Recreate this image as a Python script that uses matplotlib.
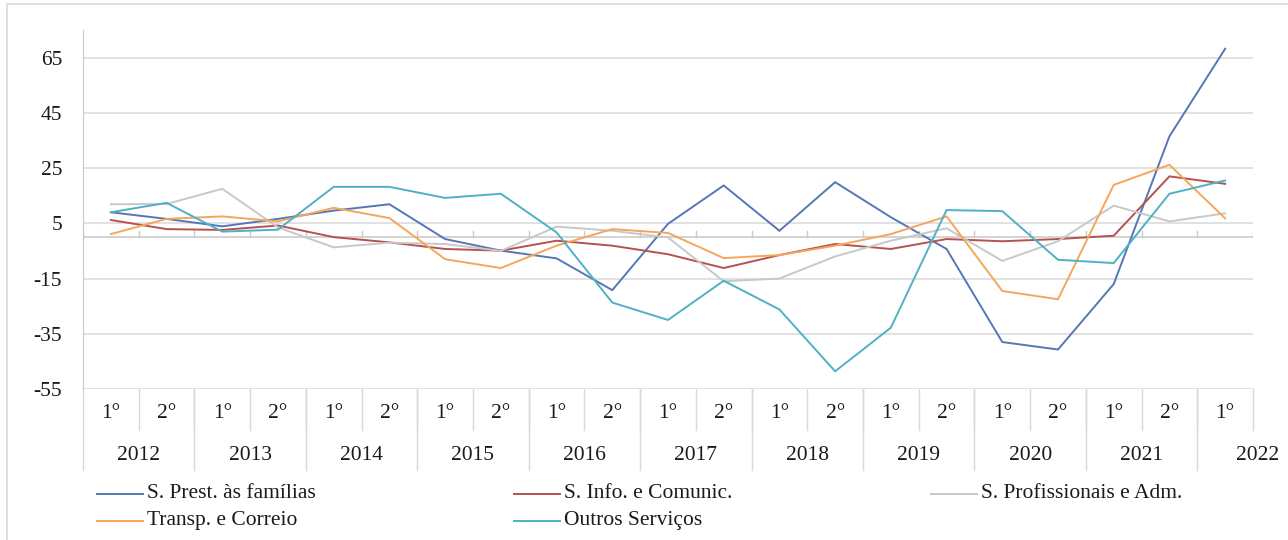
import numpy as np
import matplotlib
matplotlib.use("Agg")
import matplotlib.pyplot as plt
from matplotlib.lines import Line2D
from matplotlib.patches import Rectangle

# ---------------------------------------------------------------
# Data (semesters 2012-1 .. 2022-1)
# ---------------------------------------------------------------
half_labels = ["1°", "2°"] * 10 + ["1°"]
years = ["2012", "2013", "2014", "2015", "2016", "2017",
         "2018", "2019", "2020", "2021", "2022"]

prest = [9.0, 6.6, 3.9, 6.6, 9.6, 11.9, -0.7, -4.9, -7.7, -19.2, 4.8,
         18.7, 2.3, 19.9, 7.2, -4.3, -38.0, -40.7, -17.0, 36.5, 68.2]
info = [6.2, 2.9, 2.6, 4.2, 0.0, -1.9, -4.3, -4.9, -1.3, -3.1, -6.2,
        -11.2, -6.5, -2.5, -4.3, -0.7, -1.5, -0.7, 0.5, 22.0, 19.3]
prof = [11.9, 12.0, 17.5, 3.5, -3.7, -2.0, -2.5, -5.0, 3.8, 2.3, -0.1,
        -16.0, -15.0, -7.0, -1.3, 3.2, -8.6, -1.5, 11.4, 5.7, 8.6]
transp = [1.1, 6.6, 7.5, 5.7, 10.6, 6.9, -8.0, -11.2, -3.1, 2.9, 1.5,
          -7.6, -6.5, -3.1, 1.1, 7.5, -19.5, -22.5, 18.9, 26.2, 6.8]
outros = [9.0, 12.4, 2.0, 2.7, 18.2, 18.2, 14.2, 15.7, 1.7, -23.7, -30.0,
          -15.8, -26.2, -48.6, -32.8, 9.8, 9.4, -8.2, -9.4, 15.7, 20.5]

series_names = ["S. Prest. às famílias", "S. Info. e Comunic.",
                "S. Profissionais e Adm.", "Transp. e Correio", "Outros Serviços"]
series_values = [prest, info, prof, transp, outros]
series_colors = ["#5577b5", "#b5514e", "#c8c8c8", "#f5a65b", "#4fb0c6"]

yticks = [65, 45, 25, 5, -15, -35, -55]

# ---------------------------------------------------------------
# Figure
# ---------------------------------------------------------------
plt.rcParams["font.family"] = ["Liberation Serif", "DejaVu Serif"]
plt.rcParams["text.color"] = "#1a1a1a"
plt.rcParams["ytick.color"] = "#1a1a1a"
FS = 15.5
W, H = 1288, 540
fig = plt.figure(figsize=(W / 100, H / 100), dpi=100)

# light frame around the chart (runs off the right/bottom edges)
fig.patches.append(Rectangle((7 / W, -0.02), 1.05, 1 - 4 / H + 0.02,
                             transform=fig.transFigure, fill=False,
                             edgecolor="#d9d9d9", lw=1.2))

ax_left, ax_right, ax_top, ax_bot = 83, 1253, 30, 389
ax = fig.add_axes([ax_left / W, 1 - ax_bot / H,
                   (ax_right - ax_left) / W, (ax_bot - ax_top) / H])

x = np.arange(len(prest))
for vals, col in zip(series_values, series_colors):
    ax.plot(x, vals, color=col, lw=1.4, solid_joinstyle="miter")

ax.set_xlim(-0.5, len(x) - 0.5)
ax.set_ylim(-55, 75)
ax.set_yticks(yticks)
ax.set_yticklabels([str(v) for v in yticks], fontsize=FS)
ax.tick_params(axis="y", length=0, pad=15)
ax.set_xticks([])
ax.grid(axis="y", color="#d9d9d9", lw=1.1)
ax.set_axisbelow(True)
for s in ["top", "right", "bottom"]:
    ax.spines[s].set_visible(False)
ax.spines["left"].set_color("#c8c8c8")

# horizontal axis line at zero, with small upward ticks between categories
ax.axhline(0, color="#c8c8c8", lw=1.1, zorder=1)
for b in np.arange(-0.5, len(x), 1.0):
    ax.plot([b, b], [0, 2.3], color="#c8c8c8", lw=1.0, zorder=1)

# ---------------------------------------------------------------
# Two-level category axis below the plot
# ---------------------------------------------------------------
axh = ax_bot - ax_top
def yfrac(py):
    return (ax_bot - py) / axh

trans = ax.get_xaxis_transform()
sep_col = "#d9d9d9"
# half-year row
for i, lab in enumerate(half_labels):
    ax.text(i, yfrac(414), lab, transform=trans, ha="center", va="center",
            fontsize=FS, clip_on=False)
for i in range(len(x)):
    b = i + 0.5
    ax.plot([b, b], [yfrac(389), yfrac(430)], transform=trans,
            color=sep_col, lw=1.0, clip_on=False)
# year row
for k, yr in enumerate(years):
    if k < len(years) - 1:
        cx = 2 * k + 0.5
    else:
        cx = 2 * k + 0.58
    ax.text(cx, yfrac(456), yr, transform=trans, ha="center", va="center",
            fontsize=FS, clip_on=False)
for k in range(len(years)):
    b = 2 * k - 0.5
    ax.plot([b, b], [yfrac(389), yfrac(470)], transform=trans,
            color=sep_col, lw=1.0, clip_on=False)

# ---------------------------------------------------------------
# Legend (Excel style, 3 columns, row-major)
# ---------------------------------------------------------------
col_x = [97, 514, 931]
row_y = [494, 521]
for n, (name, col) in enumerate(zip(series_names, series_colors)):
    r, c = divmod(n, 3)
    x0, y0 = col_x[c], row_y[r]
    fig.add_artist(Line2D([x0 / W, (x0 + 46) / W], [1 - y0 / H, 1 - y0 / H],
                          color=col, lw=1.4, transform=fig.transFigure))
    fig.text((x0 + 50) / W, 1 - y0 / H, name, ha="left", va="center",
             fontsize=FS)

fig.savefig("out.png", dpi=100)
